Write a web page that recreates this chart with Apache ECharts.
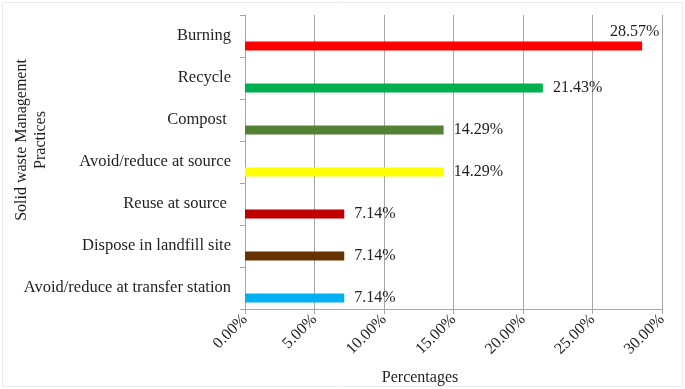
<!DOCTYPE html>
<html>
<head>
<meta charset="utf-8">
<script src="https://cdn.jsdelivr.net/npm/echarts@6/dist/echarts.min.js"></script>
<style>
html,body{margin:0;padding:0;background:#fff;}
#chart{width:685px;height:389px;}
</style>
</head>
<body>
<div id="chart"></div>
<script>
var categories = ["Burning", "Recycle", "Compost ", "Avoid/reduce at source", "Reuse at source ", "Dispose in landfill site", "Avoid/reduce at transfer station"];
var values = [28.57, 21.43, 14.29, 14.29, 7.14, 7.14, 7.14];
var barColors = ["#FF0000", "#00B050", "#548235", "#FFFF00", "#C00000", "#663300", "#00B0F0"];
var xTicks = [0, 5, 10, 15, 20, 25, 30];

var FONT = '"Liberation Serif", "Times New Roman", serif';
var chart = echarts.init(document.getElementById('chart'));

var realData = values.map(function (v, i) {
  var item = { value: v, itemStyle: { color: barColors[i] } };
  if (i === 0) {
    item.label = { offset: [-42, -14] };
  }
  return item;
});

chart.setOption({
  animation: false,
  backgroundColor: '#fff',
  grid: { left: 245, right: 23, top: 15, bottom: 80, containLabel: false },
  xAxis: {
    type: 'value',
    min: xTicks[0],
    max: xTicks[xTicks.length - 1],
    interval: 5,
    axisLine: { show: true, lineStyle: { color: '#a6a6a6', width: 1 } },
    axisTick: { show: true, length: 5, lineStyle: { color: '#a6a6a6' } },
    splitLine: { show: true, lineStyle: { color: '#a6a6a6', width: 1 } },
    axisLabel: {
      rotate: 45,
      margin: 8,
      fontFamily: FONT,
      fontSize: 16,
      color: '#1f1f1f',
      formatter: function (v) { return v.toFixed(2) + '%'; }
    }
  },
  yAxis: {
    type: 'category',
    inverse: true,
    data: categories,
    axisLine: { show: true, lineStyle: { color: '#a6a6a6', width: 1 } },
    axisTick: { show: true, length: 5, lineStyle: { color: '#a6a6a6' } },
    axisLabel: {
      margin: 14,
      fontFamily: FONT,
      fontSize: 16.5,
      color: '#1f1f1f'
    }
  },
  series: [
    {
      type: 'bar',
      data: categories.map(function () { return null; }),
      barWidth: 9,
      barGap: '122%',
      silent: true
    },
    {
      type: 'bar',
      data: realData,
      barWidth: 9,
      barGap: '122%',
      label: {
        show: true,
        position: 'right',
        distance: 10,
        fontFamily: FONT,
        fontSize: 16,
        color: '#1f1f1f',
        formatter: function (p) { return p.value.toFixed(2) + '%'; }
      }
    }
  ],
  graphic: [
    {
      type: 'rect',
      shape: { x: 2.5, y: 2.5, width: 680, height: 384 },
      style: { fill: 'none', stroke: '#ececec', lineWidth: 1 },
      silent: true
    },
    {
      type: 'text',
      x: 31,
      y: 140,
      rotation: Math.PI / 2,
      style: {
        text: 'Solid waste Management\nPractices',
        fontFamily: FONT,
        fontSize: 16,
        lineHeight: 19,
        fill: '#1f1f1f',
        align: 'center',
        verticalAlign: 'middle'
      }
    },
    {
      type: 'text',
      x: 420,
      y: 378,
      style: {
        text: 'Percentages',
        fontFamily: FONT,
        fontSize: 16,
        fill: '#1f1f1f',
        align: 'center',
        verticalAlign: 'middle'
      }
    }
  ]
});
</script>
</body>
</html>
